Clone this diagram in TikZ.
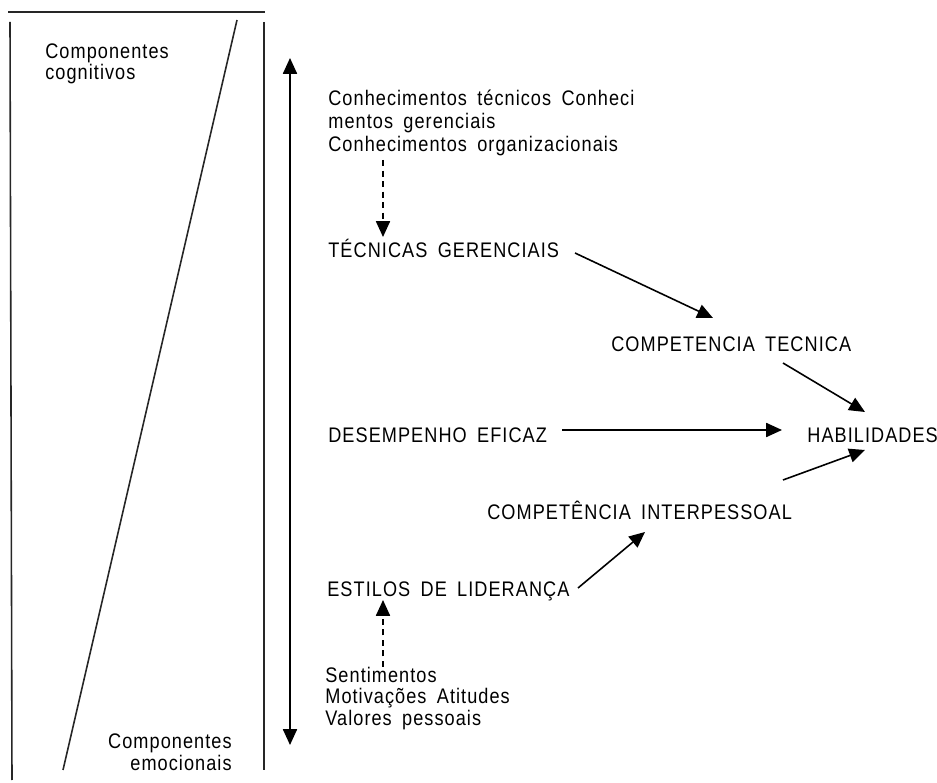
\documentclass[tikz,border=0pt]{standalone}
\usepackage{fontspec}
\setmainfont{Liberation Sans}[FakeStretch=0.86,LetterSpace=5,WordSpace=1.7]
\usetikzlibrary{arrows.meta,calc}

\tikzset{
  lbl/.style={inner sep=0pt, anchor=base west, font=\fontsize{12}{12.5}\selectfont},
  blk/.style={lbl, align=left},
  frame/.style={line width=0.9pt, black!85},
  arr/.style={line width=0.9pt, -{Triangle[length=9pt,width=8pt]}},
  darr/.style={arr, dash pattern=on 3.5pt off 2.5pt},
}

\begin{document}
\begin{tikzpicture}[x=0.02cm, y=-0.02cm]
\useasboundingbox (0,0) rectangle (937,783);

% frame and diagonal
\draw [frame] (8,12) -- (265,12);
\draw [frame] (10,22) -- (12,780);
\draw [frame] (264,22) -- (264,770);
\draw [frame] (237,20) -- (63,770);

\node[blk, font=\fontsize{12}{10.5}\selectfont] (cog) at (45,80) {Componentes\\cognitivos};
\node[blk, align=right, anchor=base east] (emo) at (232,770) {Componentes\\emocionais};

\coordinate (top) at (290,58);
\coordinate (bot) at (290,745);
\draw [arr, {Triangle[length=9pt,width=8pt]}-{Triangle[length=9pt,width=8pt]}] (top) -- (bot);

\node[blk, font=\fontsize{12}{13.2}\selectfont] (kn) at (328,152) {Conhecimentos técnicos Conheci\\mentos gerenciais\\Conhecimentos organizacionais};
\node[lbl] (tec) at (328,258) {TÉCNICAS GERENCIAIS};
\node[lbl] (ctec) at (611,352) {COMPETENCIA TECNICA};
\node[lbl] (des) at (328,443) {DESEMPENHO EFICAZ};
\node[lbl] (hab) at (807,443) {HABILIDADES};
\node[lbl] (cint) at (487,520) {COMPETÊNCIA INTERPESSOAL};
\node[lbl] (est) at (327,597) {ESTILOS DE LIDERANÇA};
\node[blk, font=\fontsize{12}{12.2}\selectfont] (sen) at (325,725) {Sentimentos\\Motivações Atitudes\\Valores pessoais};

\draw [darr] ($(kn.base west)+(55,8)$) -- ($(tec.base west)+(55,-21)$);
\draw [arr] ($(tec.base west)+(247,-5)$) -- ($(ctec.base west)+(102,-34)$);
\draw [arr] ($(ctec.base west)+(172,11)$) -- ($(hab.base west)+(58,-31)$);
\draw [arr] ($(des.base west)+(234,-13)$) -- ($(hab.base west)+(-25,-13)$);
\draw [arr] ($(cint.base west)+(296,-40)$) -- ($(hab.base west)+(58,7)$);
\draw [arr] ($(est.base west)+(251,-9)$) -- ($(cint.base west)+(158,12)$);
\draw [darr] ($(sen.base west)+(58,-58)$) -- ($(est.base west)+(56,3)$);

\end{tikzpicture}
\end{document}
